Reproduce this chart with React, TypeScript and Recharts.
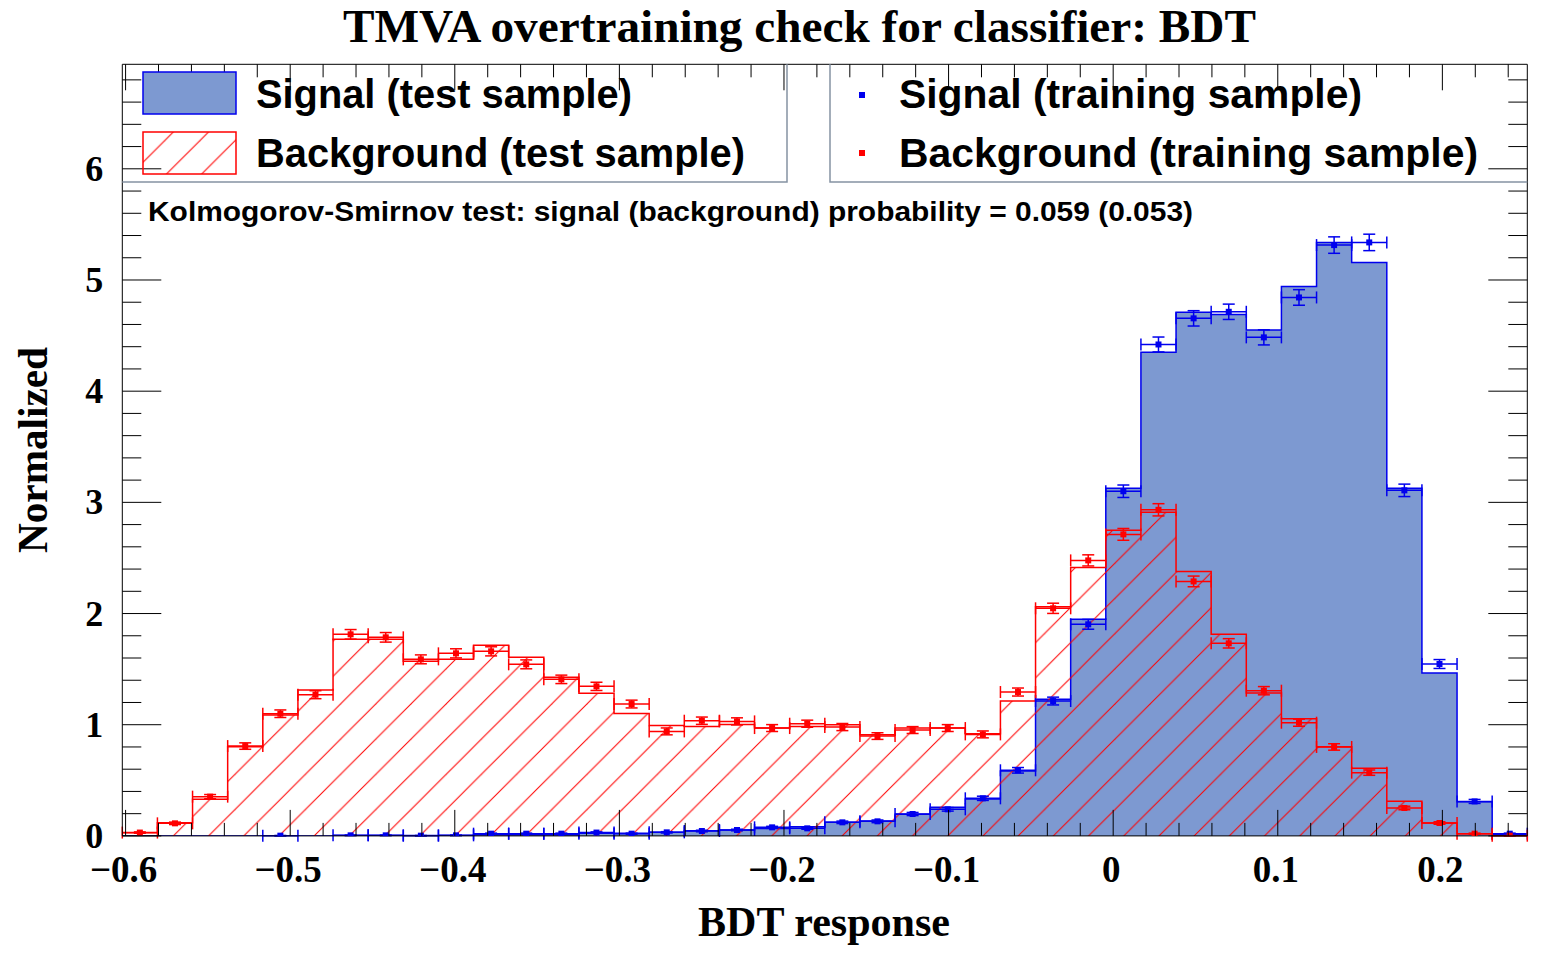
import React from "react"
import { ComposedChart, Area, Scatter, XAxis, YAxis, ErrorBar } from "recharts"

// axis ranges of the TMVA canvas
const X_MIN = -0.602
const X_MAX = 0.2516
const Y_MAX = 6.94
const N_BINS = 40

// test samples, normalized histograms (40 bins)
const sigTest = [
  0, 0, 0, 0, 0, 0, 0.004, 0.004, 0.004, 0.003,
  0.011, 0.011, 0.011, 0.023, 0.023, 0.032, 0.047, 0.053, 0.066, 0.083,
  0.122, 0.134, 0.194, 0.257, 0.332, 0.584, 1.228, 1.948, 3.126, 4.349,
  4.709, 4.69, 4.55, 4.942, 5.338, 5.158, 3.126, 1.465, 0.308, 0.014,
]
const bkgTest = [
  0.029, 0.119, 0.329, 0.802, 1.087, 1.312, 1.768, 1.768, 1.57, 1.588,
  1.714, 1.606, 1.426, 1.282, 1.102, 0.994, 0.985, 1.003, 0.97, 0.985,
  1.0, 0.91, 0.97, 0.97, 0.919, 1.213, 2.06, 2.415, 2.748, 2.91,
  2.379, 1.813, 1.285, 1.054, 0.802, 0.608, 0.311, 0.116, 0.02, 0,
]

// training samples (null = marker not drawn)
const sigTrain = [
  null, null, null, null, 0.002, null, 0.005, 0.005, 0.002, 0.005,
  0.02, 0.02, 0.02, 0.03, 0.02, 0.032, 0.044, 0.053, 0.077, 0.068,
  0.122, 0.131, 0.197, 0.239, 0.338, 0.59, 1.213, 1.903, 3.1, 4.42,
  4.655, 4.714, 4.484, 4.843, 5.314, 5.338, 3.108, 1.546, 0.31, 0.02,
]
const sigTrainErr = [
  0, 0, 0, 0, 0.002, 0, 0.003, 0.003, 0.002, 0.003,
  0.005, 0.005, 0.005, 0.006, 0.005, 0.006, 0.007, 0.007, 0.009, 0.008,
  0.011, 0.012, 0.014, 0.016, 0.019, 0.025, 0.035, 0.044, 0.056, 0.067,
  0.069, 0.069, 0.068, 0.07, 0.074, 0.074, 0.056, 0.04, 0.018, 0.005,
]
const bkgTrain = [
  0.03, 0.113, 0.353, 0.808, 1.099, 1.27, 1.813, 1.786, 1.588, 1.642,
  1.66, 1.543, 1.408, 1.345, 1.186, 0.94, 1.036, 1.03, 0.97, 1.009,
  0.979, 0.898, 0.952, 0.97, 0.913, 1.294, 2.047, 2.478, 2.712, 2.933,
  2.289, 1.732, 1.306, 1.018, 0.8, 0.569, 0.251, 0.116, 0.02, 0.002,
]
const bkgTrainErr = [
  0.006, 0.011, 0.019, 0.029, 0.034, 0.036, 0.043, 0.043, 0.04, 0.041,
  0.041, 0.04, 0.038, 0.037, 0.035, 0.031, 0.033, 0.032, 0.031, 0.032,
  0.032, 0.03, 0.031, 0.031, 0.031, 0.036, 0.046, 0.05, 0.053, 0.055,
  0.048, 0.042, 0.037, 0.032, 0.029, 0.024, 0.016, 0.011, 0.005, 0.001,
]

// ticks: majors every 0.1 (x) / 1 (y), minors in between
const xTicks = [
  -0.6, -0.58, -0.56, -0.54, -0.52, -0.5, -0.48, -0.46, -0.44, -0.42,
  -0.4, -0.38, -0.36, -0.34, -0.32, -0.3, -0.28, -0.26, -0.24, -0.22,
  -0.2, -0.18, -0.16, -0.14, -0.12, -0.1, -0.08, -0.06, -0.04, -0.02,
  0, 0.02, 0.04, 0.06, 0.08, 0.1, 0.12, 0.14, 0.16, 0.18,
  0.2, 0.22, 0.24,
]
const yTicks = [
  0, 0.2, 0.4, 0.6, 0.8, 1, 1.2, 1.4, 1.6, 1.8,
  2, 2.2, 2.4, 2.6, 2.8, 3, 3.2, 3.4, 3.6, 3.8,
  4, 4.2, 4.4, 4.6, 4.8, 5, 5.2, 5.4, 5.6, 5.8,
  6, 6.2, 6.4, 6.6, 6.8,
]

const binWidth = (X_MAX - X_MIN) / N_BINS

// step histograms need the right edge of the last bin too
const histRows = Array.from({ length: N_BINS + 1 }, (_, i) => {
  const k = Math.min(i, N_BINS - 1)
  return { x: X_MIN + i * binWidth, sig: sigTest[k], bkg: bkgTest[k] }
})

const toPoints = (vals: (number | null)[], errs: number[]) =>
  vals
    .map((y, i) => (y == null ? null : { x: X_MIN + (i + 0.5) * binWidth, y, ey: errs[i], ex: binWidth / 2 }))
    .filter(Boolean)

const sigPoints = toPoints(sigTrain, sigTrainErr)
const bkgPoints = toPoints(bkgTrain, bkgTrainErr)

const SERIF = "'Liberation Serif', 'Times New Roman', serif"
const SANS = "'Liberation Sans', Arial, Helvetica, sans-serif"
const LEGEND_BORDER = "#8592a3"

const isMajor = (v: number, step: number) => Math.abs(v / step - Math.round(v / step)) < 1e-6

const fmtX = (v: number) => {
  if (Math.abs(v) < 1e-9) return "0"
  return (v < 0 ? "\u2212" : "") + Math.abs(v).toFixed(1)
}

function renderTick(props: any, side: "bottom" | "top" | "left" | "right") {
  const { x, y, payload } = props
  const v = payload.value
  if (side === "bottom" || side === "top") {
    const len = isMajor(v, 0.1) ? 26 : 13
    const dir = side === "bottom" ? -1 : 1
    return (
      <g>
        <line x1={x} y1={y} x2={x} y2={y + dir * len} stroke="#000" strokeWidth={1} />
        {side === "bottom" && isMajor(v, 0.1) && (
          <text x={x - 2} y={y + 46} textAnchor="middle" fontFamily={SERIF} fontWeight="bold" fontSize={37} fill="#000">
            {fmtX(v)}
          </text>
        )}
      </g>
    )
  }
  const len = isMajor(v, 1) ? 39 : 19
  const dir = side === "left" ? 1 : -1
  return (
    <g>
      <line x1={x} y1={y} x2={x + dir * len} y2={y} stroke="#000" strokeWidth={1} />
      {side === "left" && isMajor(v, 1) && (
        <text x={x - 19} y={y + 12} textAnchor="end" fontFamily={SERIF} fontWeight="bold" fontSize={36} fill="#000">
          {Math.round(v)}
        </text>
      )}
    </g>
  )
}

const square = (color: string) => (p: any) =>
  <rect x={p.cx - 3} y={p.cy - 3} width={6} height={6} fill={color} />

const axisCommon = {
  interval: 0 as const,
  tickSize: 0,
  tickMargin: 0,
  tickLine: false,
  allowDataOverflow: true,
  axisLine: { stroke: "#000", strokeWidth: 1 },
}

export default function App() {
  return (
    <div style={{ position: "absolute", left: 0, top: 0, width: 1544, height: 954, background: "#fff" }}>
      <svg width={0} height={0} style={{ position: "absolute" }}>
        <defs>
          <pattern id="bkgHatch" patternUnits="userSpaceOnUse" width={35.2} height={35.2} patternTransform="translate(23.7,0)">
            <line x1={0} y1={35.2} x2={35.2} y2={0} stroke="#ff0000" strokeWidth={1} />
            <line x1={-5} y1={5} x2={5} y2={-5} stroke="#ff0000" strokeWidth={1} />
            <line x1={30.2} y1={40.2} x2={40.2} y2={30.2} stroke="#ff0000" strokeWidth={1} />
          </pattern>
        </defs>
      </svg>

      <ComposedChart
        width={1544}
        height={954}
        data={histRows}
        margin={{ top: 63.3, right: 15.7, bottom: 117.1, left: 121.3 }}
        style={{ position: "absolute", left: 0, top: 0 }}
      >
        <XAxis
          {...axisCommon}
          xAxisId="b"
          dataKey="x"
          type="number"
          domain={[X_MIN, X_MAX]}
          ticks={xTicks}
          height={1}
          tick={(p: any) => renderTick(p, "bottom")}
        />
        <XAxis
          {...axisCommon}
          xAxisId="t"
          orientation="top"
          dataKey="x"
          type="number"
          domain={[X_MIN, X_MAX]}
          ticks={xTicks}
          height={1}
          tick={(p: any) => renderTick(p, "top")}
        />
        <YAxis
          {...axisCommon}
          yAxisId="l"
          type="number"
          domain={[0, Y_MAX]}
          ticks={yTicks}
          width={1}
          tick={(p: any) => renderTick(p, "left")}
        />
        <YAxis
          {...axisCommon}
          yAxisId="r"
          orientation="right"
          type="number"
          domain={[0, Y_MAX]}
          ticks={yTicks}
          width={1}
          tick={(p: any) => renderTick(p, "right")}
        />

        <Area
          xAxisId="b"
          yAxisId="l"
          type="stepAfter"
          dataKey="sig"
          stroke="#0000ee"
          strokeWidth={1.5}
          fill="#7d99d1"
          fillOpacity={1}
          dot={false}
          activeDot={false}
          isAnimationActive={false}
        />
        <Area
          xAxisId="b"
          yAxisId="l"
          type="stepAfter"
          dataKey="bkg"
          stroke="#ff0000"
          strokeWidth={1.5}
          fill="url(#bkgHatch)"
          fillOpacity={1}
          dot={false}
          activeDot={false}
          isAnimationActive={false}
        />
        <Scatter
          xAxisId="b"
          yAxisId="l"
          data={sigPoints}
          dataKey="y"
          shape={square("#0000ee")}
          isAnimationActive={false}
        >
          <ErrorBar dataKey="ey" direction="y" width={6} stroke="#0000ee" strokeWidth={1.5} />
          <ErrorBar dataKey="ex" direction="x" width={6} stroke="#0000ee" strokeWidth={1.5} />
        </Scatter>
        <Scatter
          xAxisId="b"
          yAxisId="l"
          data={bkgPoints}
          dataKey="y"
          shape={square("#ff0000")}
          isAnimationActive={false}
        >
          <ErrorBar dataKey="ey" direction="y" width={6} stroke="#ff0000" strokeWidth={1.5} />
          <ErrorBar dataKey="ex" direction="x" width={6} stroke="#ff0000" strokeWidth={1.5} />
        </Scatter>
      </ComposedChart>

      <svg width={1544} height={954} style={{ position: "absolute", left: 0, top: 0, pointerEvents: "none" }}>
        <text x={343} y={41.5} fontFamily={SERIF} fontWeight="bold" fontSize={46} textLength={913} lengthAdjust="spacingAndGlyphs">
          TMVA overtraining check for classifier: BDT
        </text>

        {/* legend boxes */}
        <polyline points="122.3,182 787,182 787,64.3" fill="none" stroke={LEGEND_BORDER} strokeWidth={1.5} />
        <polyline points="830,64.3 830,182 1527.3,182" fill="none" stroke={LEGEND_BORDER} strokeWidth={1.5} />

        <rect x={143} y={72} width={93} height={42} fill="#7d99d1" stroke="#0000ee" strokeWidth={1.5} />
        <rect x={143} y={132} width={93} height={42} fill="url(#bkgHatch)" stroke="#ff0000" strokeWidth={1.5} />
        <text x={256} y={108} fontFamily={SANS} fontWeight="bold" fontSize={41} textLength={376} lengthAdjust="spacingAndGlyphs">
          Signal (test sample)
        </text>
        <text x={256} y={167} fontFamily={SANS} fontWeight="bold" fontSize={41} textLength={489} lengthAdjust="spacingAndGlyphs">
          Background (test sample)
        </text>

        <rect x={859} y={92} width={6} height={6} fill="#0000ee" />
        <rect x={859} y={150} width={6} height={6} fill="#ff0000" />
        <text x={899} y={108} fontFamily={SANS} fontWeight="bold" fontSize={41} textLength={463} lengthAdjust="spacingAndGlyphs">
          Signal (training sample)
        </text>
        <text x={899} y={167} fontFamily={SANS} fontWeight="bold" fontSize={41} textLength={579} lengthAdjust="spacingAndGlyphs">
          Background (training sample)
        </text>

        <text x={148} y={221} fontFamily={SANS} fontWeight="bold" fontSize={27} textLength={1045} lengthAdjust="spacingAndGlyphs">
          Kolmogorov-Smirnov test: signal (background) probability = 0.059 (0.053)
        </text>

        {/* axis titles */}
        <text
          x={0}
          y={0}
          transform="translate(47,450) rotate(-90)"
          textAnchor="middle"
          fontFamily={SERIF}
          fontWeight="bold"
          fontSize={42}
          textLength={206}
          lengthAdjust="spacingAndGlyphs"
        >
          Normalized
        </text>
        <text x={698} y={936} fontFamily={SERIF} fontWeight="bold" fontSize={42} textLength={252} lengthAdjust="spacingAndGlyphs">
          BDT response
        </text>
      </svg>
    </div>
  )
}
